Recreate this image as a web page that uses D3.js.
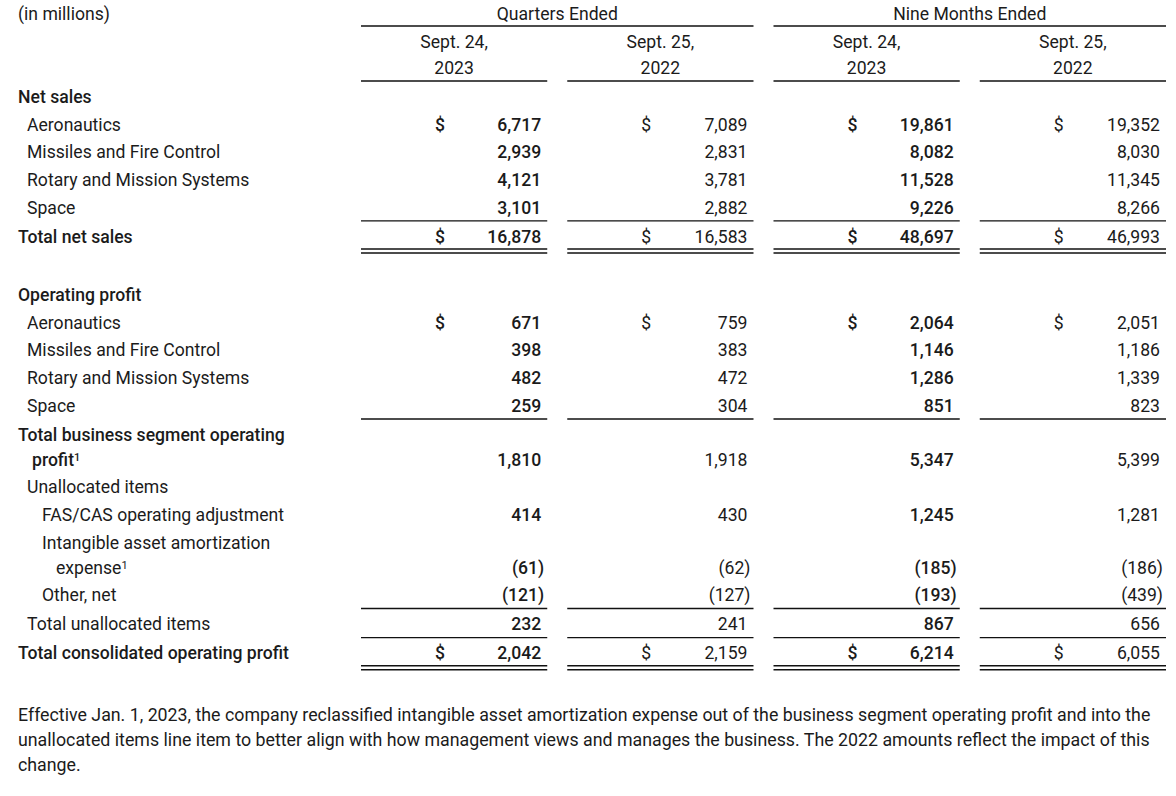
<!DOCTYPE html>
<html><head><meta charset="utf-8">
<script src="https://cdn.jsdelivr.net/npm/d3@7"></script>
<style>
html,body{margin:0;padding:0;background:#fff;}
svg{display:block;}
text{font-family:Roboto,"Liberation Sans",sans-serif;fill:#1b1b1b;}
</style></head>
<body>
<svg id="chart" width="1176" height="796"></svg>
<script>
// ---------- data ----------
const unitsLabel = "(in millions)";
const groupLabels = ["Quarters Ended", "Nine Months Ended"];
const columnDates = ["Sept. 24,", "Sept. 25,", "Sept. 24,", "Sept. 25,"];
const columnYears = ["2023", "2022", "2023", "2022"];
const rowLabels = [
  ["Net sales"],
  ["Aeronautics"],
  ["Missiles and Fire Control"],
  ["Rotary and Mission Systems"],
  ["Space"],
  ["Total net sales"],
  ["Operating profit"],
  ["Aeronautics"],
  ["Missiles and Fire Control"],
  ["Rotary and Mission Systems"],
  ["Space"],
  ["Total business segment operating", "profit"],
  ["Unallocated items"],
  ["FAS/CAS operating adjustment"],
  ["Intangible asset amortization", "expense"],
  ["Other, net"],
  ["Total unallocated items"],
  ["Total consolidated operating profit"]
];
const rowFootnote = [false,false,false,false,false,false,false,false,false,false,false,true,false,false,true,false,false,false];
const rowIndent   = [0,1,1,1,1,0,0,1,1,1,1,0,1,2,2,2,1,0];
const rowBold     = [true,false,false,false,false,true,true,false,false,false,false,true,false,false,false,false,false,true];
const rowDollar   = [false,true,false,false,false,true,false,true,false,false,false,false,false,false,false,false,false,true];
const rowRule     = ["","","","","single","double","","","","","single","","","","","single","single","double"];
const rowGapBefore= [0,0,0,0,0,0,1,0,0,0,0,0,0,0,0,0,0,0];
const quarter2023 = [null,6717,2939,4121,3101,16878,null,671,398,482,259,1810,null,414,-61,-121,232,2042];
const quarter2022 = [null,7089,2831,3781,2882,16583,null,759,383,472,304,1918,null,430,-62,-127,241,2159];
const nineMo2023  = [null,19861,8082,11528,9226,48697,null,2064,1146,1286,851,5347,null,1245,-185,-193,867,6214];
const nineMo2022  = [null,19352,8030,11345,8266,46993,null,2051,1186,1339,823,5399,null,1281,-186,-439,656,6055];
const columnSeries = [quarter2023, quarter2022, nineMo2023, nineMo2022];
const footnoteLines = [
  "Effective Jan. 1, 2023, the company reclassified intangible asset amortization expense out of the business segment operating profit and into the",
  "unallocated items line item to better align with how management views and manages the business. The 2022 amounts reflect the impact of this",
  "change."
];

// ---------- layout ----------
const svg = d3.select("#chart");
svg.append("rect").attr("width",1176).attr("height",796).attr("fill","#fff");
const FS = 17.6;
const indentX = [18, 27, 42];
const wrapIndent = 14;
const x = d3.scaleBand().domain(d3.range(4)).range([361, 1166]).paddingInner(0.097).paddingOuter(0);
const bw = x.bandwidth();
const fmt = d3.format(",");
const fmtVal = v => v < 0 ? "(" + fmt(-v) + ")" : fmt(v);

// row y positions (cumulative layout)
const pitch = 27.6, wrapStep = 25, ruleExtra = 1.5, sectionGap = 31;
const rowY = [], labelY = [];
let cy = 97;
rowLabels.forEach((lab, i) => {
  if (i > 0) {
    cy += pitch;
    if (rowRule[i-1] === "single") cy += ruleExtra;
    if (rowGapBefore[i]) cy += sectionGap;
  }
  const lines = lab.map((_, k) => cy + k * wrapStep);
  labelY.push(lines);
  cy = lines[lines.length - 1];
  rowY.push(cy);
});

const line = (x1, x2, y, w) => svg.append("line")
  .attr("x1", x1).attr("x2", x2).attr("y1", y).attr("y2", y)
  .attr("stroke", "#111").attr("stroke-width", w || 1.4);

// header
svg.append("text").attr("x", indentX[0]).attr("y", 14).attr("dy", "0.35em")
  .attr("font-size", FS).text(unitsLabel);
groupLabels.forEach((g, gi) => {
  const x1 = x(gi * 2), x2 = x(gi * 2 + 1) + bw;
  svg.append("text").attr("x", (x1 + x2) / 2).attr("y", 14).attr("dy", "0.35em")
    .attr("text-anchor", "middle").attr("font-size", FS).text(g);
  line(x1, x2, 26);
});
columnDates.forEach((d, i) => {
  const cx = x(i) + bw / 2;
  svg.append("text").attr("x", cx).attr("y", 42).attr("dy", "0.35em")
    .attr("text-anchor", "middle").attr("font-size", FS).text(d);
  svg.append("text").attr("x", cx).attr("y", 68).attr("dy", "0.35em")
    .attr("text-anchor", "middle").attr("font-size", FS).text(columnYears[i]);
  line(x(i), x(i) + bw, 81);
});

// row labels
rowLabels.forEach((lab, i) => {
  lab.forEach((t, k) => {
    const tx = svg.append("text")
      .attr("x", indentX[rowIndent[i]] + (k > 0 ? wrapIndent : 0))
      .attr("y", labelY[i][k]).attr("dy", "0.35em")
      .attr("font-size", FS)
      .attr("font-weight", rowBold[i] ? 500 : 400)
      .text(t);
    if (rowFootnote[i] && k === lab.length - 1) {
      tx.append("tspan").attr("dy", "-0.45em").attr("font-size", 11).text("1");
    }
  });
});

// values
columnSeries.forEach((series, ci) => {
  const bold = columnYears[ci] === "2023";
  const right = x(ci) + bw - 6;
  series.forEach((v, i) => {
    if (v === null) return;
    svg.append("text").attr("x", right + (v < 0 ? 3 : 0)).attr("y", rowY[i]).attr("dy", "0.35em")
      .attr("text-anchor", "end").attr("font-size", FS)
      .attr("font-weight", bold ? 500 : 400).text(fmtVal(v));
    if (rowDollar[i]) {
      svg.append("text").attr("x", x(ci) + 79).attr("y", rowY[i]).attr("dy", "0.35em")
        .attr("text-anchor", "middle").attr("font-size", FS)
        .attr("font-weight", bold ? 500 : 400).text("$");
    }
  });
  rowRule.forEach((r, i) => {
    if (r === "single") line(x(ci), x(ci) + bw, rowY[i] + 13.5);
    if (r === "double") { line(x(ci), x(ci) + bw, rowY[i] + 12.5); line(x(ci), x(ci) + bw, rowY[i] + 16.5); }
  });
});

// footnote
footnoteLines.forEach((t, k) => {
  svg.append("text").attr("x", indentX[0]).attr("y", 715 + k * 25).attr("dy", "0.35em")
    .attr("font-size", 17.8).attr("fill", "#222").text(t);
});
</script>
</body></html>
